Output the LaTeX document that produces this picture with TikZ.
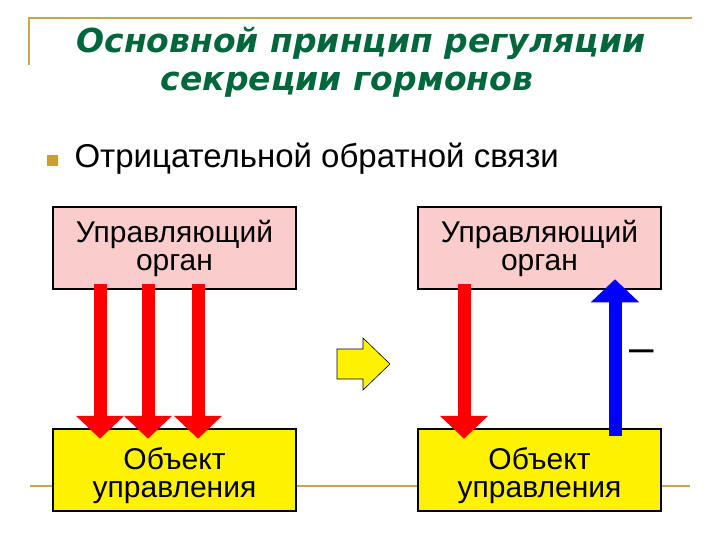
\documentclass[tikz,border=0pt]{standalone}
\usepackage{fontspec}
\setmainfont{Liberation Sans}
\newfontfamily\titlefont{DejaVu Sans}
\usetikzlibrary{arrows.meta}
\definecolor{gold}{RGB}{200,168,72}
\definecolor{titlegreen}{RGB}{0,102,60}
\definecolor{pinkbox}{RGB}{251,204,204}
\definecolor{bulletgold}{RGB}{204,160,40}

\begin{document}
\begin{tikzpicture}[x=1pt, y=-1pt,
  box/.style={draw, line width=2.5pt, minimum width=243pt, minimum height=82pt, inner sep=0pt, align=center},
  flow/.style={line width=13pt, -{Triangle[length=23pt,width=47pt]}}]
\useasboundingbox (0,0) rectangle (720,540);
% slide frame
\draw[gold, line width=2pt] (29,65) -- (29,18) -- (692,18);
\draw[gold, line width=2pt] (30,486) -- (690,486);
% title
\node[anchor=base, text=titlegreen, font=\titlefont\bfseries\itshape\fontsize{33}{38}\selectfont] (title1) at (361,53) {Основной принцип регуляции};
\node[anchor=base, text=titlegreen, font=\titlefont\bfseries\itshape\fontsize{33}{38}\selectfont] (title2) at (347,91) {секреции гормонов};
% bullet
\node[fill=bulletgold, minimum size=11pt, inner sep=0pt] (bullet) at (52,161) {};
\node[anchor=base west, font=\fontsize{33}{36}\selectfont] (point) at (71,168) {Отрицательной обратной связи};
% left scheme
\node[box, fill=pinkbox, font=\fontsize{30}{28}\selectfont] (orgL) at (174.5,248) {Управляющий\\орган};
\node[box, fill=yellow, font=\fontsize{30}{28}\selectfont] (objL) at (174.5,470) {\rule{0pt}{33pt}Объект\\управления};
\draw[flow, red] ([xshift=-74.5pt,yshift=6pt]orgL.south) -- ([xshift=-74.5pt,yshift=-11pt]objL.north);
\draw[flow, red] ([xshift=-26.5pt,yshift=6pt]orgL.south) -- ([xshift=-26.5pt,yshift=-11pt]objL.north);
\draw[flow, red] ([xshift=23.5pt,yshift=6pt]orgL.south) -- ([xshift=23.5pt,yshift=-11pt]objL.north);
% transition
\draw[fill=yellow, line width=0.6pt] (337,349) -- (363,349) -- (363,338) -- (390,364)
  -- (363,390) -- (363,379) -- (337,379) -- cycle;
% right scheme
\node[box, fill=pinkbox, font=\fontsize{30}{28}\selectfont] (orgR) at (539.5,248) {Управляющий\\орган};
\node[box, fill=yellow, font=\fontsize{30}{28}\selectfont] (objR) at (539.5,470) {\rule{0pt}{33pt}Объект\\управления};
\draw[flow, red] ([xshift=-75.5pt,yshift=6pt]orgR.south) -- ([xshift=-75.5pt,yshift=-11pt]objR.north);
\draw[flow, blue] ([xshift=75.5pt,yshift=-8pt]objR.north) -- ([xshift=75.5pt,yshift=11pt]orgR.south);
\node[font=\fontsize{44}{44}\selectfont] (minus) at (642,356) {–};
\end{tikzpicture}
\end{document}
